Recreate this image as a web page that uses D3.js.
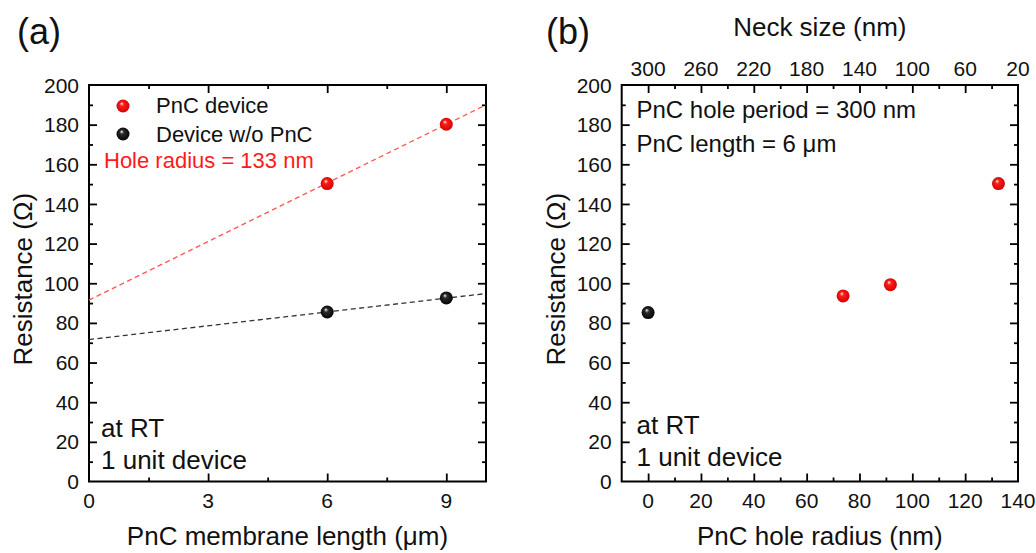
<!DOCTYPE html>
<html>
<head>
<meta charset="utf-8">
<script src="https://cdn.jsdelivr.net/npm/d3@7"></script>
<style>
  html, body { margin: 0; padding: 0; background: #fff; }
  svg { display: block; font-family: "Liberation Sans", Arial, sans-serif; }
</style>
</head>
<body>
<svg id="chart" width="1036" height="553"></svg>
<script>
// ---------- Data ----------
// Panel (a)
const membraneLength = [6, 9];                 // µm
const pncResistance = [150.3, 180.2];          // Ω
const noPncResistance = [85.5, 92.6];          // Ω
const redFitX = [0, 10];
const redFitY = [91.5, 190];
const blackFitX = [0, 10];
const blackFitY = [71.6, 94.8];
const yTicks = [0, 20, 40, 60, 80, 100, 120, 140, 160, 180, 200];
const xTicksA = [0, 3, 6, 9];

// Panel (b)
const holeRadius = [73.8, 91.7, 132.6];        // nm
const holeResistance = [93.6, 99.3, 150.3];    // Ω
const refRadius = [0];
const refResistance = [85.2];
const xTicksB = [0, 20, 40, 60, 80, 100, 120, 140];
const neckLabels = ["300", "260", "220", "180", "140", "100", "60", "20"];

// ---------- Setup ----------
(function () {
const svg = d3.select("#chart");
const defs = svg.append("defs");

function ballGradient(id, light, mid, dark) {
  const g = defs.append("radialGradient").attr("id", id)
    .attr("cx", "50%").attr("cy", "50%").attr("r", "55%")
    .attr("fx", "38%").attr("fy", "30%");
  g.append("stop").attr("offset", "0%").attr("stop-color", light);
  g.append("stop").attr("offset", "30%").attr("stop-color", mid);
  g.append("stop").attr("offset", "100%").attr("stop-color", dark);
}
ballGradient("redBall", "#fff0f0", "#ff1a1a", "#d00000");
ballGradient("blackBall", "#f0f0f0", "#2a2a2a", "#000000");

const TICK_FONT = 21, TITLE_FONT = 26, LEGEND_FONT = 22, INFO_FONT = 24, RT_FONT = 26;
const plotTop = 85, plotBottom = 481.5;

function panel(x0, x1, xDomain, majorX, minorStep) {
  const g = svg.append("g");
  const x = d3.scaleLinear().domain(xDomain).range([x0, x1]);
  const y = d3.scaleLinear().domain([0, 200]).range([plotBottom, plotTop]);
  const minorX = d3.range(Math.ceil(xDomain[0] / minorStep) * minorStep, xDomain[1] + 1e-9, minorStep)
    .filter(v => !majorX.some(m => Math.abs(m - v) < 1e-9) && v > xDomain[0] + 1e-9 && v < xDomain[1] - 1e-9);
  const minorY = d3.range(10, 200, 20);
  const majorYIn = yTicks.filter(v => v > 0 && v < 200);

  const axesG = g.append("g").attr("class", "axes");
  function drawAxis(axisGen, transform) {
    const a = axesG.append("g").attr("transform", transform).call(axisGen);
    a.select(".domain").remove();
    a.selectAll("line").attr("stroke", "#000").attr("stroke-width", 1.8);
    a.selectAll("text").remove();
    return a;
  }
  const majorXIn = majorX.filter(v => v > xDomain[0] && v < xDomain[1]);
  drawAxis(d3.axisBottom(x).tickValues(majorXIn).tickSize(-8), `translate(0,${plotBottom})`);
  drawAxis(d3.axisBottom(x).tickValues(minorX).tickSize(-4), `translate(0,${plotBottom})`);
  drawAxis(d3.axisTop(x).tickValues(majorXIn).tickSize(-8), `translate(0,${plotTop})`);
  drawAxis(d3.axisTop(x).tickValues(minorX).tickSize(-4), `translate(0,${plotTop})`);
  drawAxis(d3.axisLeft(y).tickValues(majorYIn).tickSize(-8), `translate(${x0},0)`);
  drawAxis(d3.axisLeft(y).tickValues(minorY).tickSize(-4), `translate(${x0},0)`);
  drawAxis(d3.axisRight(y).tickValues(majorYIn).tickSize(-8), `translate(${x1},0)`);
  drawAxis(d3.axisRight(y).tickValues(minorY).tickSize(-4), `translate(${x1},0)`);

  g.append("rect").attr("x", x0).attr("y", plotTop).attr("width", x1 - x0).attr("height", plotBottom - plotTop)
    .attr("fill", "none").attr("stroke", "#000").attr("stroke-width", 2);

  g.append("g").selectAll("text").data(yTicks).join("text")
    .attr("x", x0 - 10).attr("y", d => y(d)).attr("dy", "0.36em")
    .attr("text-anchor", "end").attr("font-size", TICK_FONT).attr("fill", "#111")
    .text(d => d);
  g.append("g").selectAll("text").data(majorX).join("text")
    .attr("x", d => x(d)).attr("y", 508)
    .attr("text-anchor", "middle").attr("font-size", TICK_FONT).attr("fill", "#111")
    .text(d => d);
  g.append("text")
    .attr("transform", `translate(${x0 - 57},${(plotTop + plotBottom) / 2 - 4}) rotate(-90)`)
    .attr("text-anchor", "middle").attr("font-size", TITLE_FONT).attr("fill", "#111")
    .text("Resistance (Ω)");
  return { g, x, y };
}

function balls(g, x, y, xs, ys, grad) {
  g.append("g").selectAll("circle").data(xs.map((v, i) => [v, ys[i]])).join("circle")
    .attr("cx", d => x(d[0])).attr("cy", d => y(d[1])).attr("r", 6.5)
    .attr("fill", `url(#${grad})`);
}

// ---------- Panel (a) ----------
const A = panel(89, 486, [0, 10], xTicksA, 1.5);
const lineGen = d3.line().x(d => A.x(d[0])).y(d => A.y(d[1]));
A.g.append("path").datum(redFitX.map((v, i) => [v, redFitY[i]]))
  .attr("d", lineGen).attr("fill", "none").attr("stroke", "#ff5555")
  .attr("stroke-width", 1.3).attr("stroke-dasharray", "5,3.5");
A.g.append("path").datum(blackFitX.map((v, i) => [v, blackFitY[i]]))
  .attr("d", lineGen).attr("fill", "none").attr("stroke", "#333")
  .attr("stroke-width", 1.3).attr("stroke-dasharray", "5,3.5");
balls(A.g, A.x, A.y, membraneLength, pncResistance, "redBall");
balls(A.g, A.x, A.y, membraneLength, noPncResistance, "blackBall");

A.g.append("circle").attr("cx", 123).attr("cy", 106).attr("r", 6.5).attr("fill", "url(#redBall)");
A.g.append("circle").attr("cx", 123).attr("cy", 134).attr("r", 6.5).attr("fill", "url(#blackBall)");
A.g.append("text").attr("x", 156).attr("y", 113).attr("font-size", LEGEND_FONT).attr("fill", "#111").text("PnC device");
A.g.append("text").attr("x", 156).attr("y", 141.5).attr("font-size", LEGEND_FONT).attr("fill", "#111").text("Device w/o PnC");
A.g.append("text").attr("x", 104).attr("y", 168).attr("font-size", LEGEND_FONT).attr("fill", "#ff1a1a").text("Hole radius = 133 nm");
A.g.append("text").attr("x", 101).attr("y", 437).attr("font-size", RT_FONT).attr("fill", "#111").text("at RT");
A.g.append("text").attr("x", 101).attr("y", 469).attr("font-size", RT_FONT).attr("fill", "#111").text("1 unit device");
A.g.append("text").attr("x", (89 + 486) / 2).attr("y", 545).attr("text-anchor", "middle")
  .attr("font-size", TITLE_FONT).attr("fill", "#111").text("PnC membrane length (μm)");
svg.append("text").attr("x", 17).attr("y", 44).attr("font-size", 36).attr("fill", "#111").text("(a)");

// ---------- Panel (b) ----------
const B = panel(621.7, 1018, [-10, 140], xTicksB, 10);
balls(B.g, B.x, B.y, refRadius, refResistance, "blackBall");
balls(B.g, B.x, B.y, holeRadius, holeResistance, "redBall");
B.g.append("g").selectAll("text").data(xTicksB).join("text")
  .attr("x", d => B.x(d)).attr("y", 75.5).attr("text-anchor", "middle")
  .attr("font-size", TICK_FONT).attr("fill", "#111")
  .text((d, i) => neckLabels[i]);
B.g.append("text").attr("x", (621.7 + 1018) / 2).attr("y", 36).attr("text-anchor", "middle")
  .attr("font-size", TITLE_FONT).attr("fill", "#111").text("Neck size (nm)");
B.g.append("text").attr("x", (621.7 + 1018) / 2).attr("y", 545).attr("text-anchor", "middle")
  .attr("font-size", TITLE_FONT).attr("fill", "#111").text("PnC hole radius (nm)");
B.g.append("text").attr("x", 636.5).attr("y", 118).attr("font-size", INFO_FONT).attr("fill", "#111").text("PnC hole period = 300 nm");
B.g.append("text").attr("x", 636.5).attr("y", 151.5).attr("font-size", INFO_FONT).attr("fill", "#111").text("PnC length = 6 μm");
B.g.append("text").attr("x", 636.5).attr("y", 434).attr("font-size", RT_FONT).attr("fill", "#111").text("at RT");
B.g.append("text").attr("x", 636.5).attr("y", 466).attr("font-size", RT_FONT).attr("fill", "#111").text("1 unit device");
svg.append("text").attr("x", 546).attr("y", 44).attr("font-size", 36).attr("fill", "#111").text("(b)");
})();
</script>
</body>
</html>
